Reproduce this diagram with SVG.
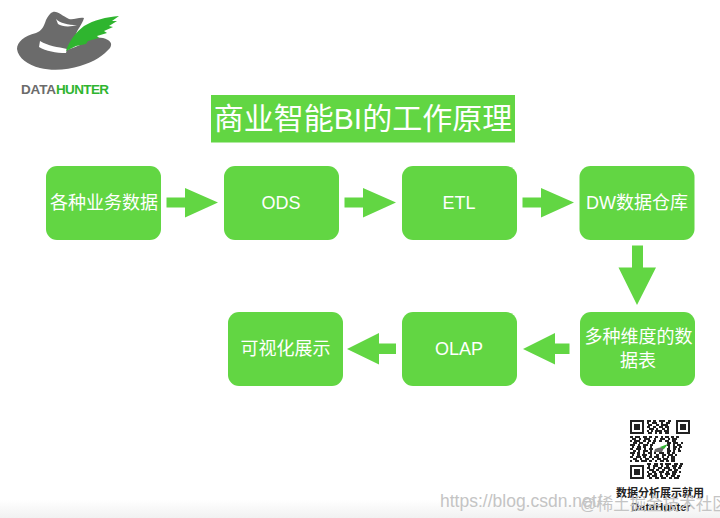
<svg xmlns="http://www.w3.org/2000/svg" width="720" height="518" viewBox="0 0 720 518">
<defs>
<linearGradient id="fade" x1="0" y1="0" x2="0" y2="1"><stop offset="0" stop-color="#fff"/><stop offset="1" stop-color="#f1f1f1"/></linearGradient>
</defs>
<style>
text{font-family:"Liberation Sans","Noto Sans CJK SC",sans-serif}
.box{fill:#62d643}
.arrow{fill:#62d643}
.t{fill:#fff;font-size:18px;text-anchor:middle}
.wm{fill:#c4c4c4;font-size:19px}
.cap{fill:#222;font-size:11px;text-anchor:middle;font-weight:bold}
</style>
<rect width="720" height="518" fill="#fff"/>
<rect y="500" width="720" height="18" fill="url(#fade)"/>
<g id="logo">
<path d="M53 12C58 11 62 16 69 19C74 20 79 17 84 18C82 25 78 28 76 34C73 40 71 46 67 50C76 47 83 44 91 38C93 36 98 38 103 38C110 40 113 43 110 48C104 55 94 62 80 66C68 70 52 71 40 68C28 65 18 58 17 49C17 42 24 36 36 33C42 31 44 26 46 20C48 16 50 13 53 12Z" fill="#6b6b6b"/>
<path d="M40 41C48 46 58 47 67 49L66 53C56 53 46 51 39 47Z" fill="#fff"/>
<path d="M56 19C60 23 68 25 77 25C71 27 62 27 58 24Z" fill="#fff"/>
<path d="M66 51C69 41 76 32 84 26C94 20 106 17 119 16L112 21L117 21L109 26L113 27L104 31L107 33L97 36L99 38L88 41L86 44L76 46Z" fill="#2fb52f"/>
<text x="21" y="94" font-size="13.5" font-weight="bold" fill="#6b6b6b" textLength="35">DATA</text>
<text x="56" y="94" font-size="13.5" font-weight="bold" fill="#2fb52f" textLength="53">HUNTER</text>
</g>
<g id="title">
<rect x="211" y="95" width="304" height="47.500" fill="#62d643"/>
<text x="363" y="129" font-size="30" fill="#fff" text-anchor="middle">商业智能BI的工作原理</text>
</g>
<g id="connectors" class="arrow">
<path d="M166.500 197.500H185V188L218 202.500L185 217.500V207.500H166.500Z"/>
<path d="M344.500 197.500H363V188L396 202.500L363 217.500V207.500H344.500Z"/>
<path d="M522.500 197.500H541V188L574 202.500L541 217.500V207.500H522.500Z"/>
<path d="M632 245.500H643V267.500H656L637 305L618.500 267.500H632Z"/>
<path d="M569.500 343.500H555V333L523 349L555 364.500V354H569.500Z"/>
<path d="M396 343.500H379V333L347 349L379 364.500V354H396Z"/>
</g>
<g id="node-source"><rect class="box" x="46" y="166" width="115" height="74" rx="11"/><text class="t" x="104" y="209">各种业务数据</text></g>
<g id="node-ods"><rect class="box" x="224" y="166" width="115" height="74" rx="11"/><text class="t" x="281" y="209">ODS</text></g>
<g id="node-etl"><rect class="box" x="402" y="166" width="115" height="74" rx="11"/><text class="t" x="459" y="209">ETL</text></g>
<g id="node-dw"><rect class="box" x="579.500" y="166" width="115" height="74" rx="11"/><text class="t" x="637" y="209">DW数据仓库</text></g>
<g id="node-tables"><rect class="box" x="580" y="312" width="115" height="74" rx="11"/><text class="t" x="638.500" y="343">多种维度的数</text><text class="t" x="638" y="367">据表</text></g>
<g id="node-olap"><rect class="box" x="402" y="312" width="115" height="74" rx="11"/><text class="t" x="459" y="355">OLAP</text></g>
<g id="node-viz"><rect class="box" x="228" y="312" width="115" height="74" rx="11"/><text class="t" x="285.500" y="355">可视化展示</text></g>
<g id="qr">
<path fill="#222" fill-rule="evenodd" d="M630 420h14v14h-14zM632 422v10h10v-10zM634 424h6v6h-6zM676 420h14v14h-14zM678 422v10h10v-10zM680 424h6v6h-6zM630 465h14v14h-14zM632 467v10h10v-10zM634 469h6v6h-6z"/>
<path fill="none" stroke="#222" stroke-width="2" d="M647 421h4m2 0h3m3 0h6m3 0h3M647 423h2m3 0h5m4 0h2m3 0h4M648 425h4m4 0h3m2 0h7M647 427h3m3 0h3m3 0h4m2 0h4M649 429h5m2 0h2m4 0h3m2 0h2M647 431h2m2 0h2m2 0h7m2 0h5M648 433h4m3 0h2m2 0h3m3 0h4M630 437h3m2 0h5m3 0h4m2 0h3m3 0h3m3 0h2m2 0h4m2 0h3m2 0h3M632 439h4m3 0h2m3 0h6m4 0h2m4 0h5m3 0h2m2 0h5M630 441h2m2 0h6m3 0h3m2 0h3m2 0h3m3 0h3m3 0h4m3 0h4M633 443h4m2 0h4m4 0h2m3 0h3m12 0h4m2 0h5m3 0h2M630 445h5m3 0h2m3 0h5m2 0h3m14 0h3m3 0h2m2 0h4M632 447h2m3 0h4m2 0h3m4 0h2m16 0h2m3 0h4m2 0h3M630 449h3m3 0h5m3 0h2m3 0h4m14 0h3m3 0h3m2 0h2M633 451h3m2 0h2m3 0h5m2 0h2m15 0h4m2 0h2m3 0h3M630 453h5m2 0h3m3 0h2m3 0h4m2 0h2m3 0h5m3 0h3m2 0h3M632 455h2m3 0h3m2 0h5m3 0h2m4 0h3m3 0h4m2 0h5m2 0h2M630 457h3m3 0h5m2 0h3m3 0h3m2 0h5m3 0h2m3 0h2m2 0h4M633 459h4m3 0h2m3 0h4m3 0h2m3 0h4m2 0h5m3 0h4M630 461h2m3 0h4m2 0h6m2 0h3m3 0h2m3 0h4m2 0h3m2 0h4M647 464h4m3 0h4m2 0h3m2 0h6m3 0h4m2 0h3M648 466h2m3 0h5m3 0h2m3 0h3m3 0h5m2 0h3M647 468h3m3 0h2m3 0h4m2 0h6m3 0h3m2 0h3M649 470h5m2 0h3m3 0h3m3 0h4m2 0h4M647 472h2m3 0h4m3 0h5m2 0h3m3 0h5m2 0h2M648 474h4m2 0h3m3 0h2m3 0h5m2 0h4M647 476h3m2 0h5m3 0h3m3 0h2m3 0h4m2 0h3M649 478h3m3 0h4m2 0h5m3 0h3m2 0h5"/>
<path fill="#6b6b6b" d="M655 449C659 447 662 448 665 446L662 452H654Z"/>
<path fill="#2fb52f" d="M660 447L668 444L664 449Z"/>
</g>
<text class="cap" x="660" y="497">数据分析展示就用</text>
<text class="cap" x="661" y="511">DataHunter</text>
<text class="wm" x="440" y="507" style="font-size:17.500px">https://blog.csdn.net/</text>
<text class="wm" x="580" y="510" style="font-size:16.500px">@稀土掘金技术社区</text>
</svg>
